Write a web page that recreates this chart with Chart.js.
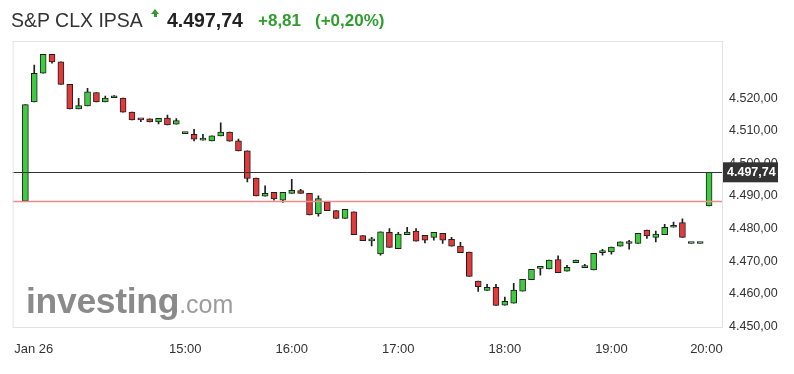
<!DOCTYPE html>
<html>
<head>
<meta charset="utf-8">
<script src="https://cdn.jsdelivr.net/npm/chart.js@4.4.1/dist/chart.umd.min.js"></script>
<style>
  html, body { margin: 0; padding: 0; background: #fff; }
  #wrap { position: relative; width: 794px; height: 374px; overflow: hidden; font-family: 'Liberation Sans', Arial, sans-serif; }
  #wrap canvas { position: absolute; left: 0; top: 0; }
  .t { position: absolute; white-space: nowrap; line-height: 20px; }
  #name { left: 11px; top: 10px; font-size: 19.5px; color: #333; }
  #price { left: 167px; top: 10px; font-size: 19.5px; font-weight: bold; color: #222; }
  #chg { left: 258px; top: 11px; font-size: 17px; font-weight: bold; color: #2f9e2f; }
  #pct { left: 315px; top: 11px; font-size: 17px; font-weight: bold; color: #2f9e2f; }
  #arrow { position: absolute; left: 151px; top: 9px; width: 0; height: 0;
    border-left: 4.5px solid transparent; border-right: 4.5px solid transparent; border-bottom: 5px solid #2f9e2f; }
  #stem { position: absolute; left: 154px; top: 14px; width: 3px; height: 3px; background: #2f9e2f; }
  #logo { position: absolute; left: 26px; top: 281px; white-space: nowrap; line-height: 40px; }
  #logo b { font-size: 35.5px; color: #8a8a8a; letter-spacing: -0.3px; }
  #logo span { font-size: 25px; color: #9c9c9c; }
</style>
</head>
<body>
<div id="wrap">
  <canvas id="myChart" width="794" height="374"></canvas>
  <div class="t" id="name">S&amp;P CLX IPSA</div>
  <div id="arrow"></div><div id="stem"></div>
  <div class="t" id="price">4.497,74</div>
  <div class="t" id="chg">+8,81</div>
  <div class="t" id="pct">(+0,20%)</div>
  <div id="logo"><b>investing</b><span>.com</span></div>
</div>
<script>
// 5 minute candles, 13:30 .. 19:55
const opens = [4488.9, 4519.3, 4528.1, 4533.9, 4531.6, 4524.7, 4517.2, 4518.1, 4522.2, 4519.3,
  4520.6, 4520.5, 4516.2, 4513.9, 4514.1, 4513.2, 4514.4, 4512.5, 4509.6, 4509.4,
  4507.6, 4507.4, 4508.9, 4510.1, 4507.4, 4504.3, 4496.0, 4490.4, 4491.6, 4489.2,
  4491.3, 4492.1, 4491.3, 4485.0, 4488.6, 4486.0, 4483.6, 4485.6, 4478.3, 4476.7,
  4472.7, 4479.3, 4474.3, 4478.6, 4479.7, 4478.4, 4477.8, 4479.0, 4477.2, 4475.1,
  4473.3, 4464.4, 4461.5, 4462.5, 4457.0, 4457.6, 4461.3, 4464.8, 4468.3, 4468.1,
  4471.0, 4467.4, 4470.0, 4468.5, 4467.8, 4473.1, 4473.3, 4475.1, 4475.9, 4475.9,
  4480.0, 4477.8, 4478.6, 4480.9, 4482.3, 4475.9, 4475.9, 4487.4];
const highs = [4518.5, 4530.6, 4533.9, 4533.9, 4531.6, 4524.7, 4520.4, 4523.5, 4522.2, 4521.1,
  4521.3, 4520.5, 4516.2, 4513.9, 4514.1, 4514.3, 4515.3, 4514.2, 4510.0, 4510.9,
  4509.4, 4508.9, 4512.9, 4510.1, 4507.9, 4504.3, 4496.0, 4493.6, 4491.6, 4491.6,
  4495.6, 4492.5, 4491.3, 4490.5, 4488.6, 4486.0, 4486.4, 4485.6, 4478.3, 4477.8,
  4479.5, 4480.5, 4479.3, 4480.9, 4480.5, 4478.4, 4479.3, 4479.0, 4477.8, 4476.3,
  4473.3, 4464.4, 4463.4, 4463.4, 4459.5, 4463.7, 4464.9, 4468.0, 4468.3, 4470.8,
  4472.1, 4469.2, 4470.8, 4469.5, 4472.9, 4474.1, 4474.8, 4476.4, 4476.9, 4479.0,
  4480.0, 4479.7, 4481.8, 4482.5, 4483.5, 4475.9, 4475.9, 4497.74];
const lows = [4488.9, 4519.3, 4528.1, 4531.2, 4524.7, 4517.2, 4517.2, 4518.1, 4519.3, 4519.3,
  4520.6, 4516.2, 4513.8, 4513.3, 4513.2, 4512.6, 4512.3, 4512.5, 4509.6, 4507.4,
  4507.6, 4507.4, 4508.9, 4507.3, 4504.3, 4494.8, 4490.5, 4490.4, 4489.2, 4488.5,
  4491.3, 4491.3, 4484.7, 4484.3, 4486.0, 4483.6, 4483.6, 4478.6, 4476.8, 4475.2,
  4472.3, 4474.7, 4474.3, 4478.6, 4476.6, 4476.1, 4476.9, 4475.9, 4475.1, 4473.1,
  4465.8, 4461.2, 4461.5, 4456.9, 4457.0, 4457.6, 4461.3, 4464.8, 4466.2, 4468.1,
  4467.0, 4467.4, 4470.0, 4468.5, 4467.8, 4472.3, 4472.6, 4475.1, 4474.2, 4475.9,
  4477.5, 4476.4, 4478.6, 4480.9, 4477.8, 4475.9, 4475.9, 4487.4];
const closes = [4518.5, 4528.1, 4533.9, 4531.6, 4524.7, 4517.2, 4518.2, 4522.4, 4519.3, 4520.5,
  4520.6, 4516.2, 4513.8, 4513.8, 4513.2, 4514.3, 4512.3, 4513.6, 4509.6, 4507.9,
  4507.6, 4508.9, 4510.1, 4507.3, 4504.3, 4495.9, 4490.5, 4491.3, 4489.6, 4491.6,
  4492.2, 4491.3, 4484.7, 4489.7, 4486.0, 4483.6, 4486.4, 4478.6, 4476.8, 4476.7,
  4479.5, 4474.7, 4478.8, 4479.4, 4476.6, 4476.9, 4479.3, 4476.9, 4475.1, 4473.1,
  4465.8, 4462.7, 4462.5, 4456.9, 4458.2, 4461.6, 4464.9, 4468.0, 4468.3, 4470.8,
  4467.0, 4468.6, 4470.8, 4468.5, 4472.9, 4473.1, 4474.8, 4476.4, 4475.9, 4479.0,
  4478.2, 4478.8, 4480.9, 4480.9, 4477.8, 4475.9, 4475.9, 4497.74];

const lastPrice = 4497.74;
const prevClose = 4488.93;
const yTicks = [4450, 4460, 4470, 4480, 4490, 4500, 4510, 4520];
const xTickPos = [0.95, 18, 30, 42, 54, 66, 76.7];
const xTickText = ['Jan 26', '15:00', '16:00', '17:00', '18:00', '19:00', '20:00'];

const UP = '#3fcb3f';
const DOWN = '#e23a3a';

function fmt(v) {
  const s = v.toFixed(2).split('.');
  return s[0].replace(/\B(?=(\d{3})+(?!\d))/g, '.') + ',' + s[1];
}

const wicks = opens.map((o, i) => ({ x: i, y: [lows[i], highs[i]] }));
const bodies = opens.map((o, i) => ({ x: i, y: [Math.min(o, closes[i]), Math.max(o, closes[i])] }));
const bodyColors = opens.map((o, i) => closes[i] >= o ? UP : DOWN);

const overlay = {
  id: 'overlay',
  afterDatasetsDraw(chart) {
    const ctx = chart.ctx;
    const a = chart.chartArea;
    const y = chart.scales.y;
    ctx.save();
    // previous close
    let py = Math.round(y.getPixelForValue(prevClose)) + 0.5;
    ctx.strokeStyle = '#f08a8a';
    ctx.lineWidth = 1.5;
    ctx.beginPath(); ctx.moveTo(a.left, py); ctx.lineTo(a.right, py); ctx.stroke();
    // last price
    let ly = Math.round(y.getPixelForValue(lastPrice)) + 0.5;
    ctx.strokeStyle = '#333';
    ctx.lineWidth = 1;
    ctx.beginPath(); ctx.moveTo(a.left, ly); ctx.lineTo(a.right, ly); ctx.stroke();
    // frame
    ctx.strokeStyle = '#e3e3e3';
    ctx.strokeRect(a.left + 0.5, a.top + 0.5, a.right - a.left - 1, a.bottom - a.top - 1);
    ctx.restore();
  },
  afterDraw(chart) {
    const ctx = chart.ctx;
    const a = chart.chartArea;
    const ly = chart.scales.y.getPixelForValue(lastPrice);
    ctx.save();
    ctx.fillStyle = '#333';
    ctx.fillRect(a.right, ly - 10, 55, 20);
    ctx.fillStyle = '#fff';
    ctx.font = "bold 12.5px 'Liberation Sans', Arial, sans-serif";
    ctx.textBaseline = 'middle';
    ctx.fillText(fmt(lastPrice), a.right + 4, ly + 0.5);
    ctx.restore();
  }
};

Chart.defaults.font.family = "'Liberation Sans', Arial, sans-serif";

const ctx = document.getElementById('myChart');
const myChart = new Chart(ctx, {
  type: 'bar',
  data: {
    datasets: [{
      label: 'wick',
      data: wicks,
      backgroundColor: '#1e1e1e',
      barThickness: 1,
      grouped: false,
      order: 2
    }, {
      label: 'body',
      data: bodies,
      backgroundColor: bodyColors,
      borderColor: '#1e1e1e',
      borderWidth: 1,
      borderSkipped: false,
      barThickness: 6,
      minBarLength: 2,
      grouped: false,
      order: 1
    }]
  },
  options: {
    responsive: false,
    animation: false,
    layout: { padding: { left: 10, top: 41, right: 0, bottom: 0 } },
    plugins: { legend: { display: false }, tooltip: { enabled: false } },
    scales: {
      x: {
        type: 'linear',
        min: -1.43,
        max: 78.57,
        offset: false,
        grid: { display: false, drawTicks: false },
        border: { display: false },
        afterBuildTicks: (s) => { s.ticks = xTickPos.map(v => ({ value: v })); },
        afterFit: (s) => { s.height = 46; },
        ticks: {
          autoSkip: false,
          maxRotation: 0,
          padding: 14,
          color: '#333',
          font: { size: 13 },
          callback: (v, i) => xTickText[i]
        }
      },
      y: {
        position: 'right',
        min: 4450,
        max: 4538,
        grid: { display: false, drawTicks: false },
        border: { display: false },
        afterBuildTicks: (s) => { s.ticks = yTicks.map(v => ({ value: v })); },
        afterFit: (s) => { s.width = 71; },
        ticks: {
          padding: 6,
          labelOffset: -1.5,
          color: '#333',
          font: { size: 12.5 },
          callback: (v) => fmt(v)
        }
      }
    }
  },
  plugins: [overlay]
});
</script>
</body>
</html>
